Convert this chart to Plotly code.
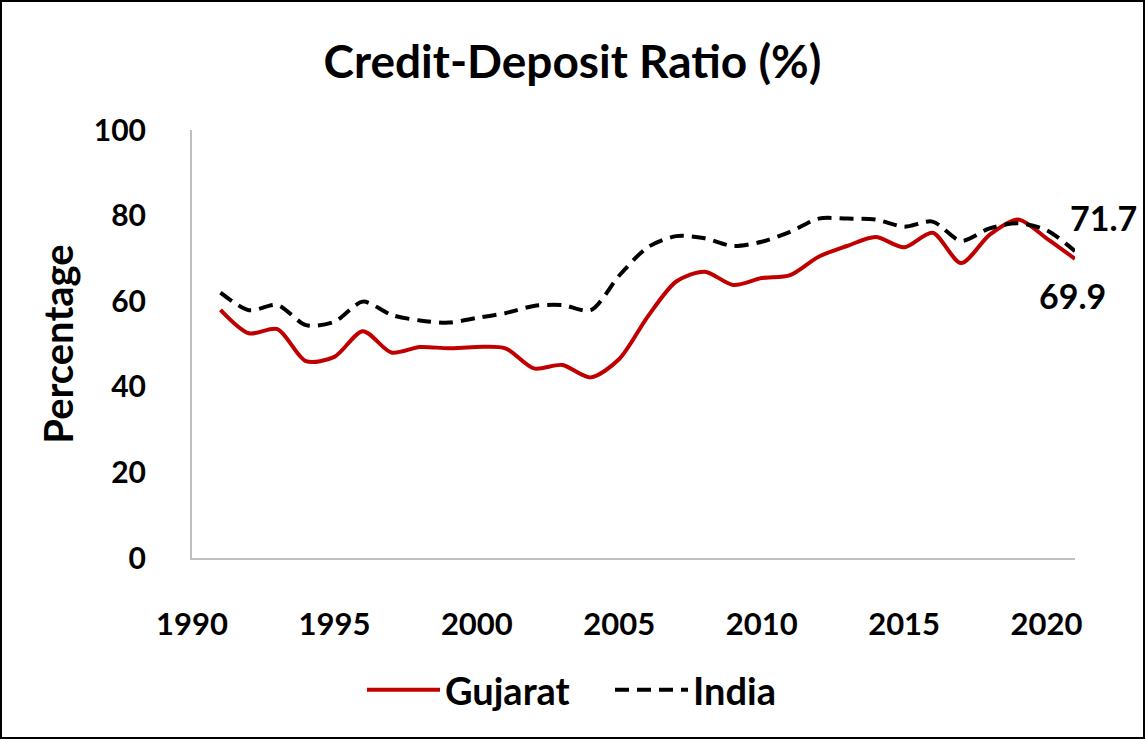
import plotly.graph_objects as go

years = list(range(1991, 2022))
gujarat = [58.0, 52.5, 53.5, 46.0, 47.0, 53.0, 48.0, 49.3, 49.0, 49.3, 49.0, 44.3, 45.1, 42.2, 46.5,
           56.4, 64.6, 66.9, 63.8, 65.4, 66.1, 70.4, 72.9, 75.0, 72.6, 76.0, 68.9, 75.5, 79.1, 74.7, 69.9]
india = [62.0, 57.9, 59.1, 54.4, 55.2, 59.9, 56.8, 55.5, 55.0, 56.1, 57.2, 58.9, 59.1, 57.9, 66.0,
         72.6, 75.2, 74.7, 72.9, 73.9, 76.2, 79.3, 79.3, 79.1, 77.4, 78.6, 74.1, 77.0, 78.2, 76.6, 71.7]
x_ticks = [1990, 1995, 2000, 2005, 2010, 2015, 2020]
y_ticks = [0, 20, 40, 60, 80, 100]

FONT = "Lato"
BLACK = "#000000"

fig = go.Figure()
fig.add_trace(go.Scatter(
    x=years, y=gujarat, name="Gujarat", mode="lines",
    line=dict(color="#C00000", width=4, shape="spline", smoothing=0.8),
))
fig.add_trace(go.Scatter(
    x=years, y=india, name="India", mode="lines",
    line=dict(color=BLACK, width=4, dash="14px,8px", shape="spline", smoothing=0.8),
))

# end-of-series data labels
fig.add_annotation(x=years[-1], y=india[-1], text=f"{india[-1]:.1f}", showarrow=False,
                   xanchor="center", yanchor="middle", xshift=28, yshift=34,
                   font=dict(family=FONT, size=34, color=BLACK, weight="bold"))
fig.add_annotation(x=years[-1], y=gujarat[-1], text=f"{gujarat[-1]:.1f}", showarrow=False,
                   xanchor="center", yanchor="middle", xshift=-3, yshift=-37,
                   font=dict(family=FONT, size=34, color=BLACK, weight="bold"))

W, H = 1145, 739
L, R, T, B = 192, 70, 130, 181
pw, ph = W - L - R, H - T - B

fig.update_layout(
    width=W, height=H,
    margin=dict(l=L, r=R, t=T, b=B, autoexpand=False),
    paper_bgcolor="white", plot_bgcolor="white",
    font=dict(family=FONT, color=BLACK, weight="bold"),
    title=dict(text="Credit-Deposit Ratio (%)", x=0.5, xanchor="center",
               y=1 - 62 / H, yanchor="middle", yref="container",
               font=dict(family=FONT, size=46, color=BLACK, weight="bold")),
    xaxis=dict(range=[1990, 2021], tickmode="array", tickvals=x_ticks,
               showgrid=False, zeroline=False, showline=True, linecolor="#BFBFBF", linewidth=2,
               ticks="", ticklabelstandoff=38,
               tickfont=dict(family=FONT, size=31, color=BLACK, weight="bold")),
    yaxis=dict(range=[0, 100], tickmode="array", tickvals=y_ticks,
               showgrid=False, zeroline=False, showline=True, linecolor="#BFBFBF", linewidth=2,
               ticks="", ticklabelstandoff=38,
               tickfont=dict(family=FONT, size=30, color=BLACK, weight="bold"),
               title=dict(text="Percentage", standoff=8,
                          font=dict(family=FONT, size=40, color=BLACK, weight="bold"))),
    legend=dict(orientation="h", x=(362 - L) / pw, xanchor="left", y=-(690 - 558) / ph, yanchor="middle",
                font=dict(family=FONT, size=38, color=BLACK, weight="bold"),
                itemwidth=73, entrywidth=160, entrywidthmode="pixels", bgcolor="rgba(0,0,0,0)"),
    showlegend=True,
)

fig.add_shape(type="rect", xref="paper", yref="paper",
              x0=-(L - 1) / pw, x1=1 + (R - 1) / pw, y0=-(B - 1) / ph, y1=1 + (T - 1) / ph,
              line=dict(color=BLACK, width=2), fillcolor="rgba(0,0,0,0)", layer="above")

fig.write_html("out.html", config={"displayModeBar": False},
               post_script="document.body.style.margin='0';document.body.style.overflow='hidden';")
